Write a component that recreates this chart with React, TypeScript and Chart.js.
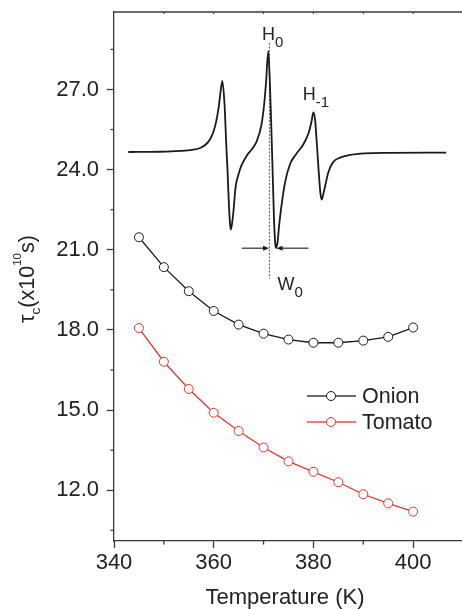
import React, { useEffect, useRef } from 'react';
import { Chart, registerables } from 'chart.js';

Chart.register(...registerables);

const FONT = "'Liberation Sans', Arial, Helvetica, sans-serif";
const INK = '#1a1a1a';
const AXIS = '#3a3a3a';
const RED = '#e5372b';

// ---- data ----
const temperatures = [345, 350, 355, 360, 365, 370, 375, 380, 385, 390, 395, 400];
const onionTau = [21.47, 20.35, 19.45, 18.71, 18.2, 17.86, 17.64, 17.52, 17.52, 17.6, 17.74, 18.09];
const tomatoTau = [18.07, 16.81, 15.79, 14.9, 14.22, 13.6, 13.08, 12.69, 12.3, 11.85, 11.51, 11.2];
const seriesLabels = ['Onion', 'Tomato'];

const xMajorTicks = [340, 360, 380, 400];
const xMinorTicks = [350, 370, 390];
const topTicks = [350, 360, 370, 380, 390, 400];
const yMajorTicks = [12, 15, 18, 21, 24, 27];
const yMinorTicks = [10.5, 13.5, 16.5, 19.5, 22.5, 25.5, 28.5];

// inset EPR spectrum (expressed in the axes' units)
const eprField = [
  342.87, 349.23, 353.24, 355.65, 357.26, 358.46, 359.27, 359.93, 360.47, 360.97,
  361.37, 361.73, 362.18, 362.48, 362.78, 363.08, 363.32, 363.46, 363.74, 363.98,
  364.38, 364.98, 365.59, 366.69, 367.69, 368.6, 369.56, 370.1, 370.5, 370.94,
  371.21, 371.51, 371.81, 372.11, 372.37, 372.51, 372.81, 373.11, 373.61, 374.32,
  375.32, 376.52, 377.93, 379.03, 379.63, 379.99, 380.34, 380.64, 381.04, 381.4,
  381.66, 381.94, 382.34, 383.01, 383.95, 385.35, 387.36, 390.37, 395.39, 406.63,
];
const eprSignal = [
  24.66, 24.67, 24.7, 24.74, 24.81, 24.95, 25.14, 25.41, 25.78, 26.3,
  26.9, 27.32, 26.41, 25.1, 23.91, 22.56, 21.89, 21.76, 22.07, 22.48,
  23.34, 23.83, 24.17, 24.54, 24.77, 25.05, 25.66, 26.41, 27.27, 28.43,
  27.53, 25.85, 23.98, 22.04, 21.18, 21.07, 21.29, 21.89, 22.67, 23.53,
  24.21, 24.58, 24.93, 25.37, 25.81, 26.14, 25.85, 25.1, 23.98, 23.12,
  22.88, 23.05, 23.38, 23.91, 24.28, 24.45, 24.55, 24.61, 24.63, 24.64,
];
const h0LineX = [371.17, 371.17];
const h0LineY = [28.74, 19.93];
const w0ArrowY = 21.06;
const w0LeftArrow = [365.63, 371.1];
const w0RightArrow = [379.0, 372.61];
const labelH0 = { x: 369.7, y: 28.86 };
const labelH1 = { x: 377.87, y: 26.6 };
const labelW0 = { x: 372.81, y: 19.49 };

type Part = { t: string; size: number; dy: number };

function richWidth(ctx: CanvasRenderingContext2D, parts: Part[]) {
  let w = 0;
  parts.forEach((p) => {
    ctx.font = `${p.size}px ${FONT}`;
    w += ctx.measureText(p.t).width;
  });
  return w;
}

function drawRich(ctx: CanvasRenderingContext2D, x: number, y: number, parts: Part[]) {
  let cx = x;
  ctx.textBaseline = 'alphabetic';
  ctx.textAlign = 'left';
  parts.forEach((p) => {
    ctx.font = `${p.size}px ${FONT}`;
    ctx.fillText(p.t, cx, y + p.dy);
    cx += ctx.measureText(p.t).width;
  });
}

const annotate = {
  id: 'annotate',
  afterDraw(chart: any) {
    const { ctx, chartArea: ca, scales } = chart;
    const xs = scales.x;
    const ys = scales.y;
    const line = (x0: number, y0: number, x1: number, y1: number) => {
      ctx.beginPath();
      ctx.moveTo(x0, y0);
      ctx.lineTo(x1, y1);
      ctx.stroke();
    };
    ctx.save();
    // top border + tiny ticks
    ctx.strokeStyle = AXIS;
    ctx.lineWidth = 1.3;
    line(ca.left, ca.top, ca.right, ca.top);
    ctx.lineWidth = 1;
    topTicks.forEach((v) => {
      const px = xs.getPixelForValue(v);
      line(px, ca.top, px, ca.top + 2);
    });
    // minor ticks
    ctx.lineWidth = 1.3;
    xMinorTicks.forEach((v) => {
      const px = xs.getPixelForValue(v);
      line(px, ca.bottom, px, ca.bottom + 3.5);
    });
    yMinorTicks.forEach((v) => {
      const py = ys.getPixelForValue(v);
      line(ca.left - 3.5, py, ca.left, py);
    });

    // W0 arrows
    ctx.strokeStyle = INK;
    ctx.fillStyle = INK;
    ctx.lineWidth = 1.1;
    const ay = ys.getPixelForValue(w0ArrowY);
    [w0LeftArrow, w0RightArrow].forEach((a) => {
      const p0 = xs.getPixelForValue(a[0]);
      const p1 = xs.getPixelForValue(a[1]);
      const dir = p1 > p0 ? 1 : -1;
      line(p0, ay, p1 - dir * 5, ay);
      ctx.beginPath();
      ctx.moveTo(p1, ay);
      ctx.lineTo(p1 - dir * 6, ay - 2.5);
      ctx.lineTo(p1 - dir * 6, ay + 2.5);
      ctx.closePath();
      ctx.fill();
    });

    // peak labels
    ctx.fillStyle = '#222';
    drawRich(ctx, xs.getPixelForValue(labelH0.x), ys.getPixelForValue(labelH0.y), [
      { t: 'H', size: 18, dy: 0 },
      { t: '0', size: 15, dy: 7 },
    ]);
    drawRich(ctx, xs.getPixelForValue(labelH1.x), ys.getPixelForValue(labelH1.y), [
      { t: 'H', size: 18, dy: 0 },
      { t: '-1', size: 15, dy: 7 },
    ]);
    drawRich(ctx, xs.getPixelForValue(labelW0.x), ys.getPixelForValue(labelW0.y), [
      { t: 'W', size: 18, dy: 0 },
      { t: '0', size: 15, dy: 7 },
    ]);

    // legend
    const ds = chart.data.datasets;
    [0, 1].forEach((i) => {
      const d = ds[i];
      const ry = ca.top + 384 + i * 26;
      const lx0 = ca.left + 193;
      const lx1 = ca.left + 242;
      const cx = ca.left + 217;
      ctx.strokeStyle = d.borderColor;
      ctx.lineWidth = 1.3;
      line(lx0, ry, cx - 4.5, ry);
      line(cx + 4.5, ry, lx1, ry);
      ctx.beginPath();
      ctx.arc(cx, ry, 4.5, 0, Math.PI * 2);
      ctx.fillStyle = '#fff';
      ctx.fill();
      ctx.lineWidth = 1;
      ctx.stroke();
      ctx.fillStyle = '#222';
      ctx.font = `21.5px ${FONT}`;
      ctx.textAlign = 'left';
      ctx.textBaseline = 'middle';
      ctx.fillText(d.label, ca.left + 248, ry + 1);
    });

    // y title
    const yParts: Part[] = [
      { t: 'τ', size: 21.5, dy: 0 },
      { t: 'c', size: 13.5, dy: 6 },
      { t: '(x10', size: 21.5, dy: 0 },
      { t: '10', size: 11.5, dy: -13 },
      { t: 's)', size: 21.5, dy: 0 },
    ];
    const tw = richWidth(ctx, yParts);
    ctx.save();
    ctx.translate(33.5, 279);
    ctx.rotate(-Math.PI / 2);
    ctx.fillStyle = '#222';
    drawRich(ctx, -tw / 2, 0, yParts);
    ctx.restore();

    // x title
    ctx.fillStyle = '#222';
    ctx.font = `22px ${FONT}`;
    ctx.textAlign = 'center';
    ctx.textBaseline = 'alphabetic';
    ctx.fillText('Temperature (K)', ca.left + 171, 604);
    ctx.restore();
  },
};

export default function App() {
  const ref = useRef<HTMLCanvasElement>(null);
  useEffect(() => {
    const canvas = ref.current;
    if (!canvas) return;
    const chart = new Chart(canvas, {
      type: 'line',
      data: {
        datasets: [
          {
            label: seriesLabels[0],
            data: temperatures.map((t, i) => ({ x: t, y: onionTau[i] })),
            borderColor: INK,
            borderWidth: 1.3,
            pointRadius: 4.5,
            pointBackgroundColor: '#fff',
            pointBorderColor: INK,
            pointBorderWidth: 1,
            tension: 0,
          },
          {
            label: seriesLabels[1],
            data: temperatures.map((t, i) => ({ x: t, y: tomatoTau[i] })),
            borderColor: RED,
            borderWidth: 1.3,
            pointRadius: 4.5,
            pointBackgroundColor: '#fff',
            pointBorderColor: RED,
            pointBorderWidth: 1,
            tension: 0,
          },
          {
            label: 'EPR spectrum',
            data: eprField.map((f, i) => ({ x: f, y: eprSignal[i] })),
            borderColor: INK,
            borderWidth: 1.8,
            pointRadius: 0,
            cubicInterpolationMode: 'monotone',
          },
          {
            label: 'H0 marker',
            data: h0LineX.map((f, i) => ({ x: f, y: h0LineY[i] })),
            borderColor: '#555',
            borderWidth: 1,
            borderDash: [2, 1.5],
            pointRadius: 0,
          },
        ],
      } as any,
      options: {
        responsive: false,
        animation: false,
        devicePixelRatio: 1,
        layout: { autoPadding: false, padding: { top: 12, left: 0, right: 0, bottom: 0 } },
        plugins: { legend: { display: false }, tooltip: { enabled: false } },
        scales: {
          x: {
            type: 'linear',
            position: 'bottom',
            min: 340,
            max: 409.8,
            afterBuildTicks: (s: any) => {
              s.ticks = xMajorTicks.map((v) => ({ value: v }));
            },
            afterFit: (s: any) => {
              s.height = 68;
              s.paddingLeft = 0;
              s.paddingRight = 0;
            },
            border: { display: true, color: AXIS, width: 1.3 },
            grid: { drawOnChartArea: false, drawTicks: true, tickLength: 7, color: AXIS, tickWidth: 1.3 },
            ticks: {
              font: { family: FONT, size: 22 },
              color: '#222',
              padding: 2,
              maxRotation: 0,
              autoSkip: false,
              callback: (v: any) => String(v),
            },
          },
          y: {
            type: 'linear',
            min: 10.1,
            max: 29.9,
            afterBuildTicks: (s: any) => {
              s.ticks = yMajorTicks.map((v) => ({ value: v }));
            },
            afterFit: (s: any) => {
              s.width = 114;
              s.paddingTop = 0;
              s.paddingBottom = 0;
            },
            border: { display: true, color: AXIS, width: 1.3 },
            grid: { drawOnChartArea: false, drawTicks: true, tickLength: 7, color: AXIS, tickWidth: 1.3 },
            ticks: {
              font: { family: FONT, size: 22 },
              color: '#222',
              padding: 8,
              autoSkip: false,
              callback: (v: any) => Number(v).toFixed(1),
            },
          },
        },
      } as any,
      plugins: [annotate],
    });
    return () => chart.destroy();
  }, []);
  return (
    <div style={{ position: 'fixed', left: 0, top: 0, width: 462, height: 609, background: '#fff' }}>
      <canvas ref={ref} width={462} height={609} style={{ display: 'block' }} />
    </div>
  );
}
